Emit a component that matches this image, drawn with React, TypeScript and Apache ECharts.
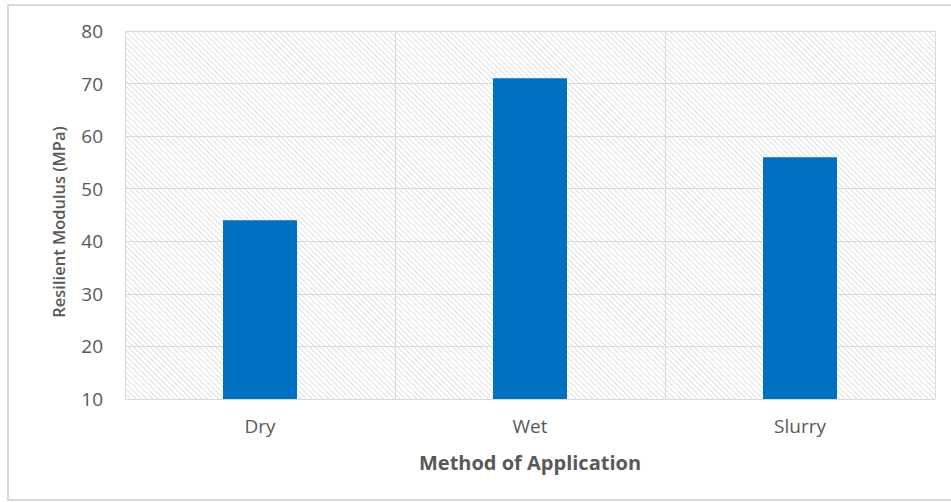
import React, { useEffect, useRef } from "react";
import * as echarts from "echarts";

const categories = ["Dry", "Wet", "Slurry"];
const modulusValues = [44, 71, 56];
const yMin = 10;
const yMax = 80;
const yInterval = 10;

const FONT = "'Open Sans', 'Liberation Sans', sans-serif";
const TEXT_COLOR = "#595959";

export default function App() {
  const ref = useRef<HTMLDivElement>(null);
  useEffect(() => {
    if (!ref.current) return;
    const chart = echarts.init(ref.current, null, { renderer: "svg" });
    const option: any = {
      animation: false,
      backgroundColor: "#ffffff",
      grid: { left: 125, right: 16, top: 31, bottom: 103, containLabel: false },
      xAxis: {
        type: "category",
        data: categories,
        boundaryGap: true,
        axisLine: { show: true, lineStyle: { color: "#d9d9d9", width: 1 } },
        axisTick: { show: false },
        splitLine: { show: true, lineStyle: { color: "#d9d9d9", width: 1 } },
        axisLabel: { color: TEXT_COLOR, fontSize: 19, fontFamily: FONT, margin: 17 },
      },
      yAxis: {
        type: "value",
        min: yMin,
        max: yMax,
        interval: yInterval,
        axisLine: { show: false },
        axisTick: { show: false },
        splitLine: { show: true, lineStyle: { color: "#d9d9d9", width: 1 } },
        axisLabel: { color: TEXT_COLOR, fontSize: 19, fontFamily: FONT, margin: 22 },
      },
      graphic: [
        {
          type: "rect",
          silent: true,
          shape: { x: 8, y: 5, width: 960, height: 495 },
          style: { fill: "none", stroke: "#d9d9d9", lineWidth: 2 },
        },
        {
          type: "text",
          x: 58,
          y: 222,
          rotation: Math.PI / 2,
          style: {
            text: "Resilient Modulus (MPa)",
            fill: TEXT_COLOR,
            font: `600 16.5px ${FONT}`,
            align: "center",
            verticalAlign: "middle",
          },
        },
        {
          type: "text",
          x: 530,
          y: 462,
          style: {
            text: "Method of Application",
            fill: TEXT_COLOR,
            font: `bold 20px ${FONT}`,
            align: "center",
            verticalAlign: "middle",
          },
        },
      ],
      series: [
        {
          type: "custom",
          silent: true,
          z: 0,
          data: [[0, yMin]],
          renderItem: (params: any) => {
            const cs = params.coordSys;
            const left = cs.x, top = cs.y, right = cs.x + cs.width, bottom = cs.y + cs.height;
            const children: any[] = [];
            const step = 5.5;
            for (let c = left - bottom; c <= right - top; c += step) {
              let x1 = c + top, y1 = top;
              if (x1 < left) { x1 = left; y1 = left - c; }
              let x2 = c + bottom, y2 = bottom;
              if (x2 > right) { x2 = right; y2 = right - c; }
              if (y2 <= y1) continue;
              children.push({
                type: "line",
                shape: { x1, y1, x2, y2 },
                style: { stroke: "#d6d6d6", lineWidth: 1 },
              });
            }
            return { type: "group", children };
          },
        },
        {
          type: "bar",
          data: modulusValues,
          barWidth: 74,
          z: 3,
          itemStyle: { color: "#0070C0" },
        },
      ],
    };
    chart.setOption(option);
    return () => chart.dispose();
  }, []);
  return (
    <div
      ref={ref}
      style={{ position: "fixed", left: 0, top: 0, width: 951, height: 502 }}
    />
  );
}
